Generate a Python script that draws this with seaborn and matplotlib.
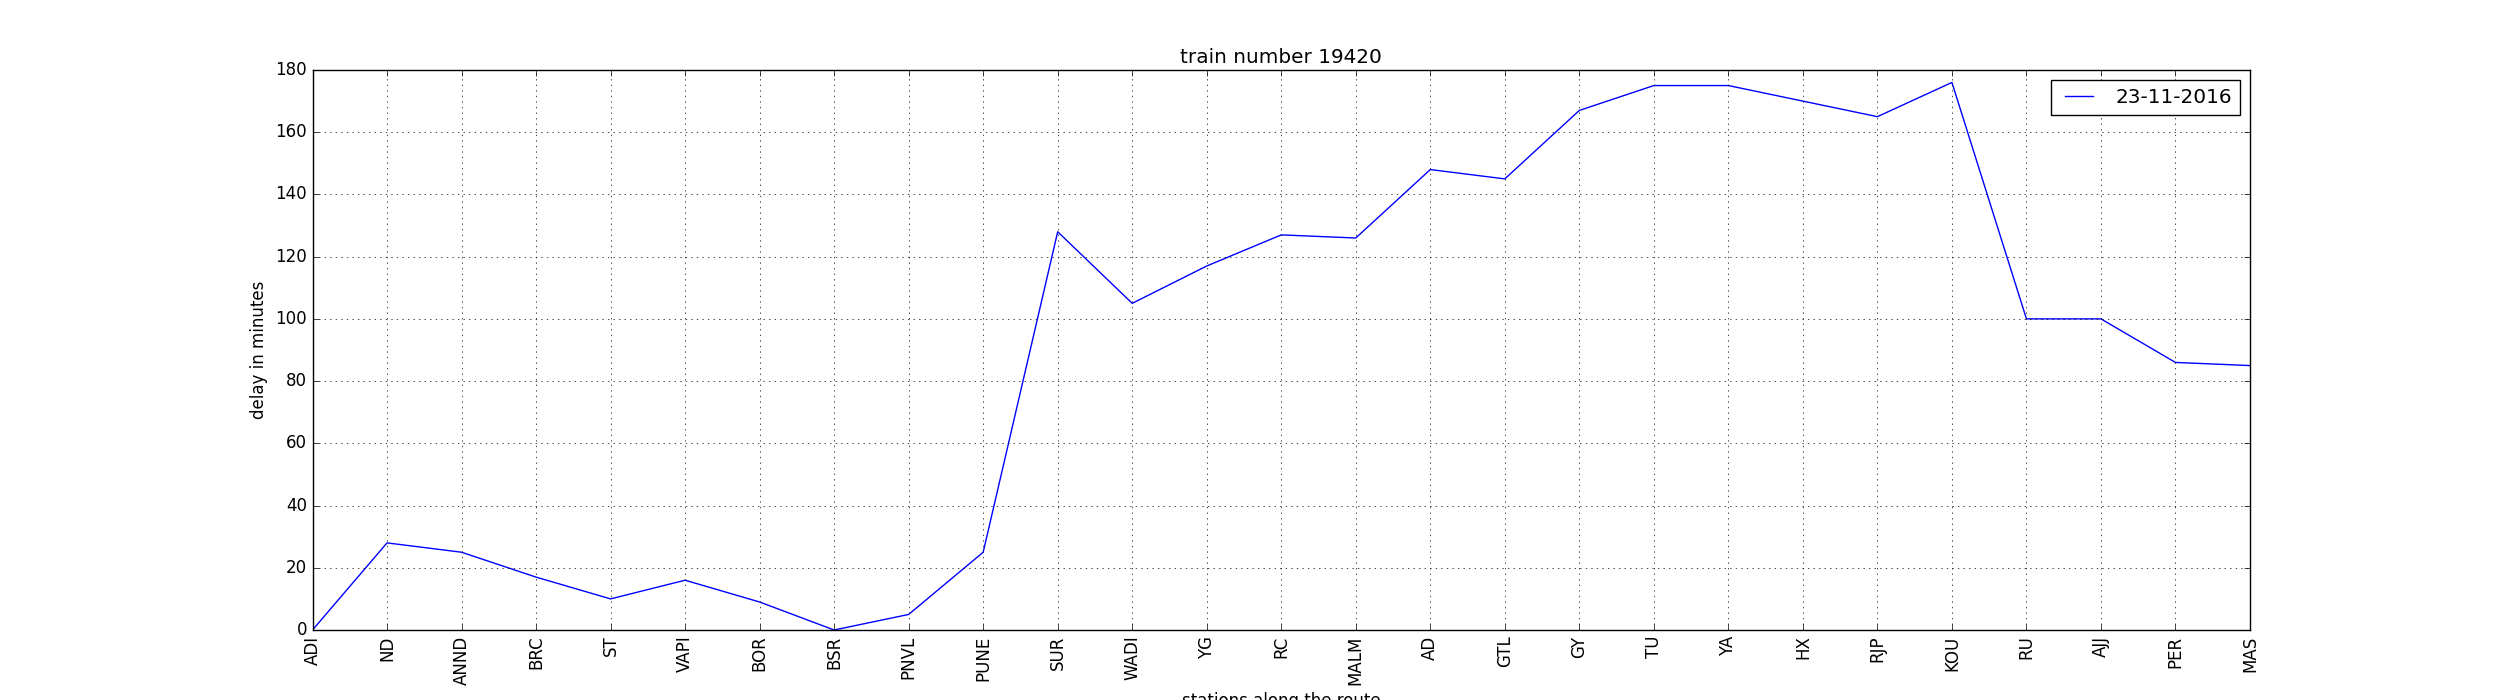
import matplotlib
matplotlib.use('Agg')
import matplotlib.pyplot as plt
import seaborn as sns
import pandas as pd

# estaciones y retraso (minutos)
stations = ['ADI', 'ND', 'ANND', 'BRC', 'ST', 'VAPI', 'BOR', 'BSR', 'PNVL', 'PUNE',
            'SUR', 'WADI', 'YG', 'RC', 'MALM', 'AD', 'GTL', 'GY', 'TU', 'YA',
            'HX', 'RJP', 'KOU', 'RU', 'AJJ', 'PER', 'MAS']
delay = [0, 28, 25, 17, 10, 16, 9, 0, 5, 25,
         128, 105, 117, 127, 126, 148, 145, 167, 175, 175,
         170, 165, 176, 100, 100, 86, 85]
date_label = '23-11-2016'

plt.style.use('classic')
plt.rcParams['figure.facecolor'] = 'white'
plt.rcParams['savefig.facecolor'] = 'white'

df = pd.DataFrame({'pos': range(len(stations)), 'delay': delay})

fig, ax = plt.subplots(figsize=(25, 7), dpi=100)
sns.lineplot(data=df, x='pos', y='delay', color='b', sort=False,
             label=date_label, ax=ax)

ax.set_xticks(range(len(stations)))
ax.set_xticklabels(stations, rotation=90)
ax.set_xlim(0, len(stations) - 1)
ax.set_ylim(0, 180)
ax.grid(True)
ax.set_title('train number 19420')
ax.set_xlabel('stations along the route')
ax.set_ylabel('delay in minutes')
ax.legend(loc='upper right')

fig.savefig('out.png')
